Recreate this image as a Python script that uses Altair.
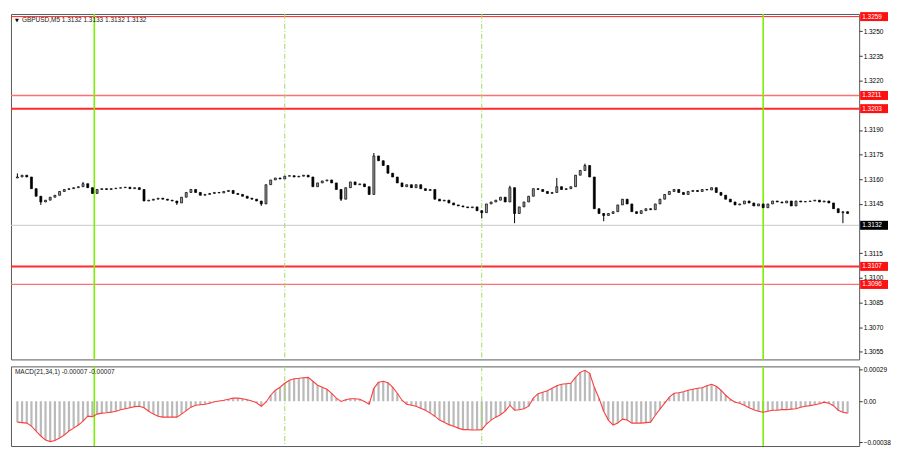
import altair as alt
import pandas as pd

# ---------------- data ----------------
closes = [
    1.31614, 1.31625, 1.31614, 1.31543, 1.31497, 1.31462, 1.31473, 1.31491, 1.31503, 1.31526,
    1.31538, 1.31543, 1.31549, 1.31555, 1.31573, 1.31549, 1.31514, 1.31538, 1.31543, 1.31538,
    1.31543, 1.31546, 1.31549, 1.31552, 1.31543, 1.31549, 1.31538, 1.31468, 1.31473, 1.31479,
    1.31485, 1.31479, 1.31473, 1.31468, 1.31456, 1.31491, 1.31520, 1.31538, 1.31520, 1.31503,
    1.31508, 1.31514, 1.31520, 1.31517, 1.31526, 1.31532, 1.31514, 1.31508, 1.31497, 1.31485,
    1.31479, 1.31468, 1.31450, 1.31567, 1.31596, 1.31608, 1.31602, 1.31619, 1.31622, 1.31614,
    1.31619, 1.31625, 1.31614, 1.31555, 1.31578, 1.31590, 1.31596, 1.31578, 1.31538, 1.31479,
    1.31549, 1.31584, 1.31567, 1.31572, 1.31555, 1.31508, 1.31742, 1.31713, 1.31684, 1.31637,
    1.31614, 1.31578, 1.31555, 1.31567, 1.31549, 1.31567, 1.31543, 1.31532, 1.31538, 1.31479,
    1.31468, 1.31473, 1.31456, 1.31444, 1.31438, 1.31432, 1.31427, 1.31432, 1.31409, 1.31397,
    1.31450, 1.31462, 1.31473, 1.31491, 1.31462, 1.31549, 1.31392, 1.31432, 1.31462, 1.31497,
    1.31543, 1.31538, 1.31526, 1.31514, 1.31520, 1.31555, 1.31538, 1.31543, 1.31555, 1.31625,
    1.31654, 1.31684, 1.31614, 1.31421, 1.31392, 1.31380, 1.31392, 1.31403, 1.31444, 1.31479,
    1.31450, 1.31403, 1.31392, 1.31409, 1.31421, 1.31415, 1.31450, 1.31479, 1.31508, 1.31526,
    1.31538, 1.31520, 1.31508, 1.31526, 1.31532, 1.31526, 1.31538, 1.31535, 1.31549, 1.31520,
    1.31503, 1.31479, 1.31462, 1.31444, 1.31450, 1.31468, 1.31456, 1.31438, 1.31450, 1.31427,
    1.31450, 1.31468, 1.31462, 1.31456, 1.31468, 1.31438, 1.31468, 1.31462, 1.31465, 1.31468,
    1.31473, 1.31462, 1.31468, 1.31456, 1.31421, 1.31397, 1.31403, 1.31392,
]
first_open = 1.31608
spike_high = {0: 1.31636, 14: 1.31584, 76: 1.31760, 105: 1.31561, 115: 1.31608, 121: 1.31695}
spike_low = {5: 1.31444, 34: 1.31444, 52: 1.31438, 69: 1.31468, 99: 1.31362,
             106: 1.31333, 125: 1.31345, 176: 1.31333}

macd_e5 = [
    -19.3, -19.7, -20.2, -23.0, -27.5, -32.1, -35.8, -37.2, -36.3, -34.0,
    -31.2, -27.5, -24.8, -22.0, -18.4, -13.8, -14.2, -11.9, -11.0, -10.6,
    -10.1, -9.2, -7.8, -6.9, -6.0, -5.0, -4.6, -6.0, -9.2, -11.9,
    -13.8, -14.7, -14.7, -14.5, -14.7, -11.9, -8.7, -5.5, -3.7, -3.2,
    -2.8, -1.8, -0.5, 0.2, 0.9, 1.8, 2.8, 2.8, 2.3, 1.4,
    0.1, -1.4, -4.6, -0.9, 5.5, 10.1, 12.9, 16.5, 19.3, 20.7,
    21.1, 21.6, 22.0, 18.4, 14.7, 12.9, 11.0, 7.3, 2.8, -0.2,
    1.4, 2.3, 2.3, 1.8, -0.3, -2.8, 11.9, 17.4, 18.4, 17.0,
    12.9, 7.3, 0.9, -2.8, -3.7, -4.6, -6.4, -8.3, -11.0, -13.8,
    -17.4, -19.3, -21.6, -23.0, -24.8, -26.2, -26.2, -26.6, -26.6, -26.2,
    -21.1, -17.4, -14.7, -12.4, -9.2, -3.7, -8.3, -7.8, -6.9, -4.6,
    2.8, 6.9, 8.3, 9.6, 11.9, 14.2, 15.6, 16.1, 16.5, 22.0,
    26.6, 28.5, 25.7, 12.9, 2.8, -9.2, -17.4, -22.0, -20.2, -16.5,
    -17.4, -20.2, -20.2, -20.2, -19.7, -19.3, -12.9, -7.3, -1.8, 3.7,
    7.3, 7.8, 8.7, 10.1, 11.0, 11.9, 12.4, 14.2, 15.6, 13.8,
    10.1, 5.5, 1.8, -0.9, -1.8, -3.7, -6.0, -7.8, -9.2, -10.1,
    -9.2, -8.3, -8.3, -7.8, -7.8, -7.3, -6.9, -5.5, -4.6, -4.1,
    -3.2, -2.3, -0.9, -1.8, -4.1, -8.3, -10.1, -11.0,
]

x_labels = [
    "17 Nov 2025", "17 Nov 22:30", "17 Nov 23:55", "18 Nov 01:30", "18 Nov 02:50",
    "18 Nov 04:10", "18 Nov 05:30", "18 Nov 06:50", "18 Nov 08:10", "18 Nov 09:30",
    "18 Nov 10:50", "18 Nov 12:10", "18 Nov 13:30", "18 Nov 14:50", "18 Nov 16:10",
    "18 Nov 17:30", "18 Nov 18:50", "18 Nov 20:10", "18 Nov 21:30", "18 Nov 22:50",
    "19 Nov 00:15", "19 Nov 01:45", "19 Nov 03:05",
]
x_label_idx = [0, 8, 16, 24, 32, 40, 48, 56, 64, 72, 80, 88, 96, 104, 112, 120,
               128, 136, 144, 152, 160, 168, 176]

price_ticks = [1.3055, 1.3070, 1.3085, 1.3100, 1.3115, 1.3145, 1.3160,
               1.3175, 1.3190, 1.3220, 1.3235, 1.3250]
macd_ticks = [0.00029, 0.0, -0.00038]

levels_red = [1.3259]
levels_pink = [1.3211, 1.3096]
levels_thick = [1.3203, 1.3107]
red_label_levels = [1.3259, 1.3211, 1.3203, 1.3107, 1.3096]
bid_level = [1.3132]

vline_solid = [16.4, 159]
vline_dash = [57, 99]

price_title = "GBPUSD,M5  1.3132 1.3133 1.3132 1.3132"
macd_title = "MACD(21,34,1) -0.00007 -0.00007"

# ---------------- tables ----------------
opens = [first_open] + closes[:-1]
candles = pd.DataFrame({
    "idx": list(range(len(closes))),
    "open": opens,
    "close": closes,
    "high": [spike_high.get(i, max(o, c)) for i, (o, c) in enumerate(zip(opens, closes))],
    "low": [spike_low.get(i, min(o, c)) for i, (o, c) in enumerate(zip(opens, closes))],
})
macd_df = pd.DataFrame({"idx": list(range(len(macd_e5))), "macd": [v * 1e-5 for v in macd_e5]})

W = 852
H1 = 347
H2 = 80
FONT = "Liberation Sans"
FS = 6.5

xsc = alt.Scale(domain=[-0.3, 178.4], nice=False, zero=False)
ysc = alt.Scale(domain=[1.30504, 1.32606], nice=False, zero=False)
msc = alt.Scale(domain=[-0.000413, 0.000321], nice=False, zero=False)

yax = alt.Axis(orient="right", values=price_ticks, format=".4f", title=None, grid=False,
               domain=False, tickSize=3, labelPadding=1)
max_ = alt.Axis(orient="right", values=macd_ticks, title=None, grid=False, domain=False,
                tickSize=3, labelPadding=1,
                labelExpr="datum.value == 0 ? '0.00' : format(datum.value, '.5f')")
lab_arr = "[" + ",".join("'" + s + "'" for s in x_labels) + "]"
xax = alt.Axis(values=x_label_idx, title=None, grid=False, domain=False, tickSize=3,
               labelPadding=1, labelAlign="left", labelOverlap=False, labelFlush=False,
               labelExpr=lab_arr + "[round(datum.value / 8)]")

X = alt.X("idx:Q", scale=xsc, axis=None)


def hlines(vals, color, width):
    return alt.Chart(pd.DataFrame({"price": vals})).mark_rule(
        color=color, strokeWidth=width).encode(
        y=alt.Y("price:Q", scale=ysc, axis=yax))


def vlines(vals, color, width, dash=None, scale=xsc):
    kw = dict(color=color, strokeWidth=width)
    if dash:
        kw["strokeDash"] = dash
    return alt.Chart(pd.DataFrame({"idx": vals})).mark_rule(**kw).encode(
        x=alt.X("idx:Q", scale=scale, axis=None))


base = alt.Chart(candles)
wicks = base.mark_rule(color="black", strokeWidth=1, clip=True).encode(
    x=X, y=alt.Y("low:Q", scale=ysc, axis=yax), y2="high:Q")
bodies = base.mark_bar(size=2, stroke="black", strokeWidth=0.7, clip=True).encode(
    x=X, y=alt.Y("open:Q", scale=ysc, axis=yax), y2="close:Q",
    fill=alt.condition("datum.close > datum.open", alt.value("#9a9a9a"), alt.value("black")))

red_boxes = alt.Chart(pd.DataFrame({"price": red_label_levels})).mark_tick(
    orient="horizontal", size=28, thickness=9, color="#ff1010", opacity=1, clip=False).encode(
    x=alt.value(W + 15), y=alt.Y("price:Q", scale=ysc, axis=yax))
red_texts = alt.Chart(pd.DataFrame({"price": red_label_levels})).mark_text(
    align="left", baseline="middle", color="white", font=FONT, fontSize=FS).encode(
    x=alt.value(W + 3), y=alt.Y("price:Q", scale=ysc, axis=yax),
    text=alt.Text("price:Q", format=".4f"))
bid_box = alt.Chart(pd.DataFrame({"price": bid_level})).mark_tick(
    orient="horizontal", size=28, thickness=9, color="black", opacity=1, clip=False).encode(
    x=alt.value(W + 15), y=alt.Y("price:Q", scale=ysc, axis=yax))
bid_text = alt.Chart(pd.DataFrame({"price": bid_level})).mark_text(
    align="left", baseline="middle", color="white", font=FONT, fontSize=FS).encode(
    x=alt.value(W + 3), y=alt.Y("price:Q", scale=ysc, axis=yax),
    text=alt.Text("price:Q", format=".4f"))

tri = alt.Chart(pd.DataFrame({"t": ["▼"]})).mark_text(
    align="left", baseline="middle", font="DejaVu Sans", fontSize=5, color="black").encode(
    x=alt.value(4), y=alt.value(6), text="t:N")
ptitle = alt.Chart(pd.DataFrame({"t": [price_title]})).mark_text(
    align="left", baseline="middle", font=FONT, fontSize=FS, color="#202020").encode(
    x=alt.value(11), y=alt.value(6), text="t:N")

price_panel = alt.layer(
    hlines(bid_level, "#c8c8c8", 1),
    hlines(levels_pink, "#ff7070", 1.3),
    hlines(levels_red, "#ff2020", 1),
    hlines(levels_thick, "#ff2a2a", 2),
    vlines(vline_dash, "#9be060", 1, [5, 2, 1, 2]),
    vlines(vline_solid, "#7cf000", 1.6),
    wicks, bodies,
    red_boxes, red_texts, bid_box, bid_text, tri, ptitle,
).properties(width=W, height=H1)

mX = alt.X("idx:Q", scale=xsc, axis=xax)
mbase = alt.Chart(macd_df)
hist = mbase.mark_bar(size=2.2, color="#bababa", clip=True).encode(
    x=mX, y=alt.Y("macd:Q", scale=msc, axis=max_), y2=alt.datum(0))
mline = mbase.mark_line(color="#ff3c3c", strokeWidth=1.1, clip=True).encode(
    x=mX, y=alt.Y("macd:Q", scale=msc, axis=max_))
mtitle = alt.Chart(pd.DataFrame({"t": [macd_title]})).mark_text(
    align="left", baseline="middle", font=FONT, fontSize=FS, color="#202020").encode(
    x=alt.value(4), y=alt.value(6), text="t:N")

macd_panel = alt.layer(
    hist,
    vlines(vline_dash, "#9be060", 1, [5, 2, 1, 2]),
    vlines(vline_solid, "#7cf000", 1.6),
    mline, mtitle,
).properties(width=W, height=H2)

chart = alt.vconcat(price_panel, macd_panel, spacing=3).properties(
    padding={"left": 1, "top": 2, "right": 1, "bottom": 1}, background="white"
).configure_view(stroke="#5a5a5a", strokeWidth=1).configure_axis(
    labelFont=FONT, labelFontSize=FS, labelColor="black", tickColor="#333333"
)

chart.save("out.html", embed_options={"renderer": "svg", "actions": False})
